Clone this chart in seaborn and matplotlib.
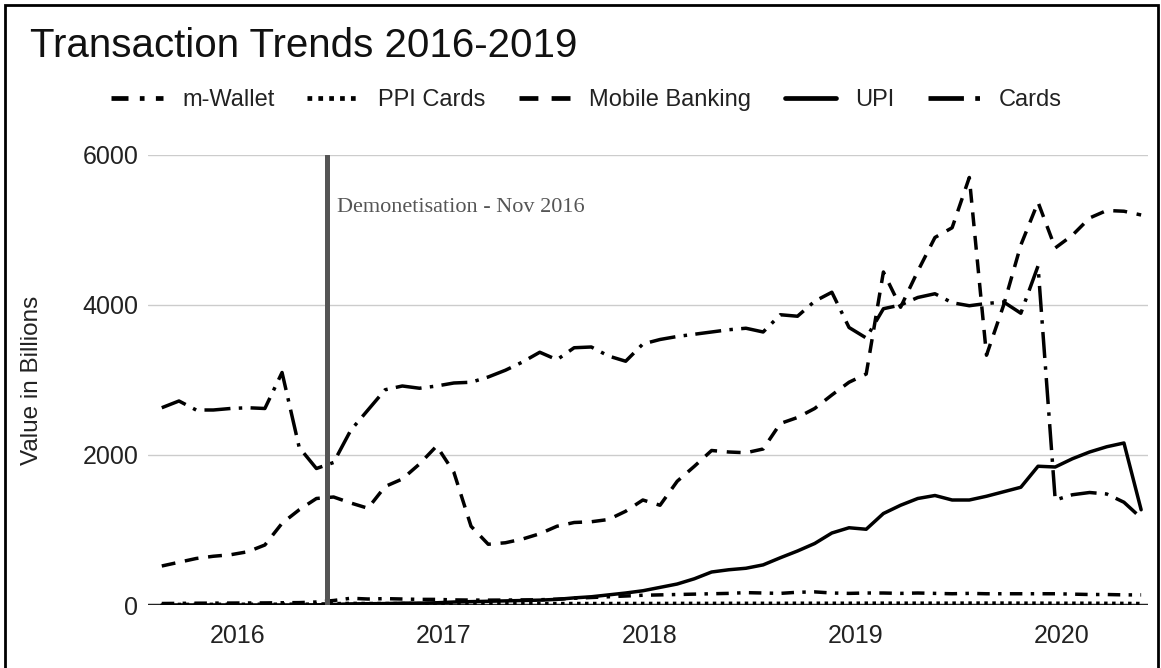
import pandas as pd
import seaborn as sns
import matplotlib.pyplot as plt
from matplotlib.patches import Rectangle

# monthly values (in billions), Jan 2016 onwards
series_names = ["m-Wallet", "PPI Cards", "Mobile Banking", "UPI", "Cards"]
year_labels = ["2016", "2017", "2018", "2019", "2020"]

m_wallet = [20, 22, 24, 25, 26, 27, 28, 30, 32, 40,
            60, 90, 80, 85, 80, 75, 75, 68, 66, 65,
            66, 68, 70, 78, 90, 100, 110, 120, 130, 135,
            140, 145, 150, 155, 165, 160, 155, 170, 175, 160,
            155, 160, 160, 155, 160, 155, 150, 155, 150, 150,
            150, 150, 150, 145, 140, 140, 135, 135]

ppi_cards = [8, 8, 9, 9, 10, 10, 10, 11, 11, 12,
             18, 22, 20, 20, 19, 19, 20, 19, 19, 18,
             18, 18, 19, 19, 20, 20, 20, 21, 21, 21,
             22, 22, 22, 23, 23, 23, 23, 24, 24, 24,
             24, 25, 25, 25, 25, 25, 25, 26, 26, 26,
             25, 25, 24, 24, 24, 23, 22, 20]

mobile_banking = [520, 570, 620, 650, 670, 710, 800, 1090, 1270, 1420,
                  1440, 1360, 1290, 1580, 1680, 1880, 2120, 1770, 1050, 810,
                  830, 880, 950, 1050, 1100, 1110, 1140, 1250, 1400, 1330,
                  1650, 1850, 2060, 2040, 2030, 2080, 2420, 2500, 2620, 2800,
                  2970, 3080, 4440, 3970, 4450, 4900, 5030, 5700, 3330, 4000,
                  4800, 5370, 4760, 4930, 5160, 5260, 5250, 5200]

upi = [0, 0, 0, 0, 0, 0, 0, 0, 1, 2,
       7, 15, 17, 19, 25, 25, 30, 40, 45, 50,
       55, 60, 65, 75, 95, 110, 135, 160, 190, 235,
       280, 350, 440, 470, 490, 535, 630, 720, 820, 960,
       1030, 1010, 1220, 1330, 1420, 1460, 1400, 1400, 1450, 1510,
       1570, 1850, 1840, 1950, 2040, 2110, 2160, 1270]

cards = [2630, 2720, 2600, 2600, 2620, 2630, 2620, 3100, 2100, 1820,
         1900, 2330, 2600, 2870, 2920, 2890, 2920, 2960, 2970, 3040,
         3130, 3240, 3370, 3270, 3430, 3440, 3320, 3250, 3480, 3540,
         3580, 3610, 3640, 3670, 3690, 3640, 3870, 3850, 4050, 4170,
         3700, 3560, 3950, 4000, 4100, 4150, 4030, 3990, 4020, 4040,
         3890, 4520, 1400, 1470, 1500, 1480, 1370, 1160]

df = pd.DataFrame({
    "month": range(len(cards)),
    "m-Wallet": m_wallet,
    "PPI Cards": ppi_cards,
    "Mobile Banking": mobile_banking,
    "UPI": upi,
    "Cards": cards,
})
long_df = df.melt(id_vars="month", var_name="series", value_name="value")

sns.set_theme(style="white")
plt.rcParams["font.family"] = ["Liberation Sans", "DejaVu Sans"]

fig = plt.figure(figsize=(11.61, 6.68), dpi=100)
ax = fig.add_axes([0.1275, 0.0943, 0.8613, 0.6737])

line_dashes = {
    "m-Wallet": (3.6, 2.4, 1, 2.4),
    "PPI Cards": (1, 1.3),
    "Mobile Banking": (4, 2.8),
    "UPI": "",
    "Cards": (7.5, 2.4, 1, 2.4),
}
sns.lineplot(data=long_df, x="month", y="value", hue="series", style="series",
             hue_order=series_names, style_order=series_names,
             palette={s: "black" for s in series_names}, dashes=line_dashes,
             linewidth=2.5, ax=ax)

ax.set_ylim(0, 6000)
ax.set_xlim(-0.8, 57.4)
ax.set_yticks([0, 2000, 4000, 6000])
ax.set_xticks([4.4 + 12 * i for i in range(len(year_labels))])
ax.set_xticklabels(year_labels)
ax.yaxis.grid(True, color="#cccccc", linewidth=1)
ax.xaxis.grid(False)
ax.axhline(0, color="#222222", linewidth=2.5, zorder=1)
sns.despine(ax=ax, left=True, bottom=True)
ax.tick_params(axis="both", length=0, labelsize=18, colors="#222222")
ax.tick_params(axis="y", pad=7)
ax.tick_params(axis="x", pad=14)
ax.set_xlabel("")
ax.set_ylabel("Value in Billions", fontsize=17.5, color="#222222")
ax.yaxis.set_label_coords(-0.105, 0.5)

# demonetisation marker
ax.axvline(9.62, color="#555555", linewidth=3.6, zorder=4)
ax.text(10.2, 5300, "Demonetisation - Nov 2016", family="Liberation Serif",
        fontsize=16, color="#555555", va="center")

handles, labels = ax.get_legend_handles_labels()
ax.get_legend().remove()
for h in handles:
    h.set_linewidth(3.4)
fig.legend(handles, labels, loc="center", bbox_to_anchor=(0.505, 0.85), ncol=5,
           frameon=False, fontsize=17, handlelength=2.2, handletextpad=0.8,
           columnspacing=1.4, labelcolor="#222222")

fig.text(0.026, 0.9147, "Transaction Trends 2016-2019", fontsize=29,
         color="#111111", va="baseline")

fig.add_artist(Rectangle((0.0043, -0.05), 0.9931, 1.0425, transform=fig.transFigure,
                         fill=False, edgecolor="black", linewidth=2))

fig.savefig("out.png", dpi=100)
